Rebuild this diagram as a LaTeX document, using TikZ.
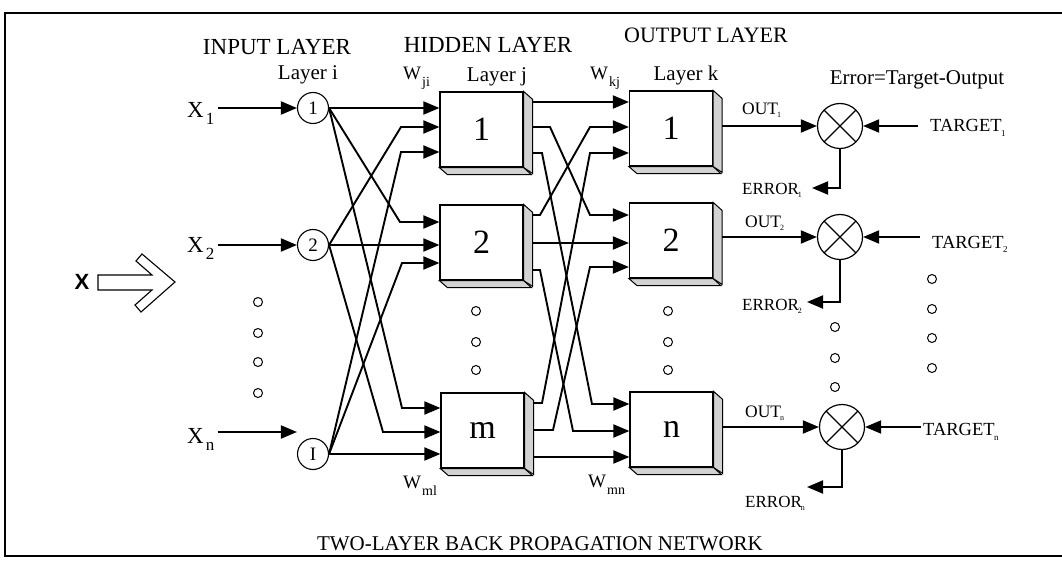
\documentclass[tikz,border=0pt]{standalone}
\usepackage{fontspec}
\setmainfont{Liberation Serif}
\newfontfamily\sansfnt{Liberation Sans}
\usetikzlibrary{arrows.meta,calc}
\newcommand{\fs}[1]{\fontsize{#1}{#1}\selectfont}
\newcommand{\xsub}[1]{\kern2pt\raisebox{-7pt}{\fs{17}#1}}
\newcommand{\wsub}[1]{\kern1pt\raisebox{-7pt}{\fs{14}#1}}
\newcommand{\osub}[1]{\kern-1pt\raisebox{-3pt}{\fs{8}#1}}
\newcommand{\tsub}[1]{\kern-0.5pt\raisebox{-5pt}{\fs{9}#1}}
\begin{document}
\begin{tikzpicture}[x=1pt,y=-1pt,
  arr/.style={-{Triangle[length=16pt,width=13pt]},line width=1.9pt},
  inode/.style={circle,draw,line width=1.1pt,minimum size=31pt,inner sep=0pt,font=\fs{19}},
  hbox/.style={draw,line width=1.2pt,minimum width=83pt,minimum height=75pt,inner sep=0pt,font=\fs{34},fill=white},
  face/.style={fill=gray!35,draw=black,line width=1pt},
  cmp/.style={circle,draw,line width=1.2pt,minimum size=45pt,inner sep=0pt,
    path picture={\draw[line width=1.1pt] (path picture bounding box.north west) -- (path picture bounding box.south east)
      (path picture bounding box.north east) -- (path picture bounding box.south west);}},
  lbl/.style={inner sep=0pt,anchor=base},
  lblw/.style={inner sep=0pt,anchor=base west},
  dotc/.style={line width=1pt}
]
\useasboundingbox (0,0) rectangle (1062,561);
% frame
\draw[line width=1.6pt] (1062,13) -- (5,13) -- (5,556) -- (1062,556);

% titles
\node[lbl,font=\fs{23}] (tin) at (277,55) {INPUT LAYER};
\node[lbl,font=\fs{21}] (li) at (308,80) {Layer i};
\node[lbl,font=\fs{23}] (thid) at (488,53) {HIDDEN LAYER};
\node[lbl,font=\fs{21}] (lj) at (497,82) {Layer j};
\node[lbl,font=\fs{22}] (tout) at (706,43) {OUTPUT LAYER};
\node[lbl,font=\fs{21}] (lk) at (686,81) {Layer k};
\node[lbl,font=\fs{21}] (err) at (917,85) {Error=Target-Output};
\node[lbl,font=\fs{21}] (cap) at (540,550) {TWO-LAYER BACK PROPAGATION NETWORK};
\node[lblw,font=\fs{19}] (wji) at (403,80) {W\wsub{ji}};
\node[lblw,font=\fs{19}] (wkj) at (590,80) {W\wsub{kj}};
\node[lblw,font=\fs{19}] (wml) at (403,488) {W\wsub{ml}};
\node[lblw,font=\fs{19}] (wmn) at (588,487) {W\wsub{mn}};

% big X arrow
\node[font=\sansfnt\bfseries\fs{22}] (bx) at (82,282) {X};
\draw[line width=1.1pt] (98,275) -- (152,275) -- (136,261) -- (142,254) -- (175,282)
  -- (141,312) -- (135,305) -- (152,290) -- (98,290) -- cycle;

% input nodes
\node[inode] (i1) at (313,108) {1};
\node[inode] (i2) at (313,245) {2};
\node[inode] (i3) at (313,454) {I};
\node[lblw,font=\fs{23},inner xsep=3pt] (x1) at (184,118) {X\xsub{1}};
\node[lblw,font=\fs{23},inner xsep=3pt] (x2) at (184,253) {X\xsub{2}};
\node[lblw,font=\fs{23},inner xsep=3pt] (x3) at (184,443) {X\xsub{n}};
\draw[arr] (x1.east |- i1) -- (i1);
\draw[arr] (x2.east |- i2) -- (i2);
\draw[arr] (x3.east |- 0,432) -- (i3.west |- 0,432);
\foreach \yy in {302,333,362,393} \draw[dotc] (258,\yy) circle (4.5);

% hidden boxes
\node[hbox] (h1) at (481.5,129.5) {1};
\node[hbox] (h2) at (481.5,242.5) {2};
\node[hbox] (h3) at (482.5,430.5) {m};
% output boxes
\node[hbox] (o1) at (671,128.5) {1};
\node[hbox] (o2) at (671,240.5) {2};
\node[hbox] (o3) at (671.5,429.5) {n};
\foreach \b in {h1,h2,h3,o1,o2,o3}{
  \draw[face] (\b.north east) -- ++(9,8) -- ++(0,74) -- (\b.south east) -- cycle;
  \draw[face] (\b.south west) -- ++(8,7) -- ++(84,0) -- (\b.south east) -- cycle;
  \coordinate (\b r) at ($(\b.east)+(9,0)$);
}
\foreach \yy in {311,342,370} {\draw[dotc] (476,\yy) circle (4.5); \draw[dotc] (668,\yy) circle (4.5);}

% input -> hidden
\draw[arr] (i1.east) -- (h1.west |- i1.east);
\draw[arr] (i1.east) -- (400,222) -- (h2.west |- 0,222);
\draw[arr] (i1.east) -- (402,408) -- (h3.west |- 0,408);
\draw[arr] (i2.east) -- (401,127) -- (h1.west |- 0,127);
\draw[arr] (i2.east) -- (h2.west |- i2.east);
\draw[arr] (i2.east) -- (383,432) -- (h3.west |- 0,432);
\draw[arr] (i3.east) -- (401,152) -- (h1.west |- 0,152);
\draw[arr] (i3.east) -- (402,263) -- (h2.west |- 0,263);
\draw[arr] (i3.east) -- (h3.west |- i3.east);

% hidden -> output
\draw[arr] (h1r |- 0,102) -- (o1.west |- 0,102);
\draw[arr] (h1r |- 0,127) -- (550,127) -- (590,215) -- (o2.west |- 0,215);
\draw[arr] (h1r |- 0,153) -- (542,153) -- (592,404) -- (o3.west |- 0,404);
\draw[arr] (h2r |- 0,215) -- (540,215) -- (590,127) -- (o1.west |- 0,127);
\draw[arr] (h2r |- 0,243) -- (o2.west |- 0,243);
\draw[arr] (h2r |- 0,270) -- (540,270) -- (573,431) -- (o3.west |- 0,431);
\draw[arr] (h3r |- 0,403) -- (542,403) -- (590,153) -- (o1.west |- 0,153);
\draw[arr] (h3r |- 0,430) -- (553,430) -- (590,267) -- (o2.west |- 0,267);
\draw[arr] (h3r |- 0,457) -- (o3.west |- 0,457);

% comparators
\node[cmp] (c1) at (840,126) {};
\node[cmp] (c2) at (840,237) {};
\node[cmp] (c3) at (842,427) {};
\draw[arr] (o1r |- c1) -- (c1);
\draw[arr] (o2r |- c2) -- (c2);
\draw[arr] (o3r |- c3) -- (c3);
\node[lblw,font=\fs{17.5}] (out1) at (742,115) {OUT\osub{1}};
\node[lblw,font=\fs{17.5}] (out2) at (745,228) {OUT\osub{2}};
\node[lblw,font=\fs{17.5}] (out3) at (745,417) {OUT\osub{n}};
\node[lblw,font=\fs{18.5}] (t1) at (930,132) {TARGET\tsub{1}};
\node[lblw,font=\fs{18.5}] (t2) at (932,248) {TARGET\tsub{2}};
\node[lblw,font=\fs{18.5}] (t3) at (923,435) {TARGET\tsub{n}};
\coordinate (ts1) at (918,126);
\coordinate (ts2) at (920,237);
\coordinate (ts3) at (921,427);
\draw[arr] (ts1) -- (c1);
\draw[arr] (ts2) -- (c2);
\draw[arr] (ts3) -- (c3);
\node[lblw,font=\fs{17}] (e1) at (742,195) {ERROR\osub{1}};
\node[lblw,font=\fs{17}] (e2) at (742,310) {ERROR\osub{2}};
\node[lblw,font=\fs{17}] (e3) at (745,507) {ERROR\osub{n}};
\coordinate (ee1) at (812,188);
\coordinate (ee2) at (807,302);
\coordinate (ee3) at (807,487);
\draw[arr] (c1.south) |- (ee1);
\draw[arr] (c2.south) |- (ee2);
\draw[arr] (c3.south) |- (ee3);
\foreach \yy in {327,358,387} \draw[dotc] (835,\yy) circle (4.5);
\foreach \yy in {279,309,338,368} \draw[dotc] (932,\yy) circle (4.5);
\end{tikzpicture}
\end{document}
